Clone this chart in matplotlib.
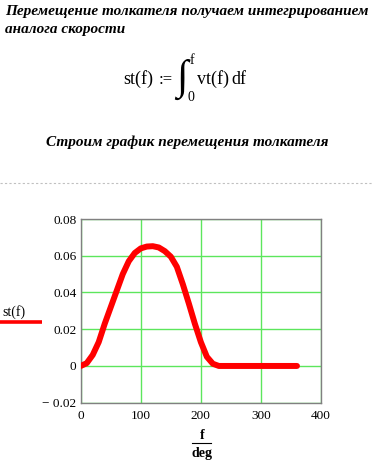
import matplotlib
matplotlib.use("Agg")
import matplotlib.pyplot as plt
from matplotlib.lines import Line2D

plt.rcParams['font.family'] = ['Liberation Serif', 'DejaVu Serif']
plt.rcParams['mathtext.fontset'] = 'stix'

# data
angle_deg = [0, 10, 20, 30, 40, 50, 60, 70, 80, 90, 100, 110, 120, 130, 140,
             150, 160, 170, 180, 190, 200, 210, 220, 230, 240, 250, 260, 270,
             280, 290, 300, 310, 320, 330, 340, 350, 360]
st_values = [0.0, 0.0015, 0.006, 0.013, 0.023, 0.032, 0.041, 0.050, 0.057,
             0.0615, 0.064, 0.065, 0.0652, 0.0645, 0.0625, 0.0595, 0.054,
             0.0445, 0.034, 0.023, 0.013, 0.005, 0.0012, 0.0, 0.0, 0.0, 0.0,
             0.0, 0.0, 0.0, 0.0, 0.0, 0.0, 0.0, 0.0, 0.0, 0.0]
x_ticks = [0, 100, 200, 300, 400]
y_ticks = [-0.02, 0, 0.02, 0.04, 0.06, 0.08]
y_tick_labels = ["\u2212 0.02", "0", "0.02", "0.04", "0.06", "0.08"]

W, H = 372, 461
fig = plt.figure(figsize=(W / 100, H / 100), dpi=100)
fig.patch.set_facecolor('white')

def fx(px):
    return px / W

def fy(py):
    return 1 - py / H

# header texts
fig.text(fx(5), fy(12), "Перемещение толкателя получаем интегрированием",
         fontsize=11, fontweight='bold', fontstyle='italic', ha='left', va='center')
fig.text(fx(5), fy(30), "аналога скорости",
         fontsize=11, fontweight='bold', fontstyle='italic', ha='left', va='center')

# formula st(f) := ∫_0^f vt(f) df
fig.text(fx(123), fy(84), "st(f)", fontsize=13, ha='left', va='baseline')
fig.text(fx(159), fy(84), ":=", fontsize=12, ha='left', va='baseline')
fig.text(fx(182), fy(79), "\u222b", fontsize=30, ha='center', va='center')
fig.text(fx(192), fy(61), "f", fontsize=10, ha='center', va='center')
fig.text(fx(191), fy(97), "0", fontsize=10, ha='center', va='center')
fig.text(fx(197), fy(84), "vt(f)", fontsize=13, ha='left', va='baseline')
fig.text(fx(231), fy(84), "df", fontsize=13, ha='left', va='baseline')

fig.text(fx(187), fy(142), "Строим график перемещения толкателя",
         fontsize=11, fontweight='bold', fontstyle='italic', ha='center', va='center')

fig.add_artist(Line2D([0, 1], [fy(183), fy(183)], transform=fig.transFigure,
                      color='#c0c0c0', lw=0.8, ls=(0, (2, 2))))

# axes
ax = fig.add_axes([fx(80.7), fy(402.7), fx(321) - fx(80.7), fy(219) - fy(402.7)])
ax.plot(angle_deg, st_values, color='#ff0000', lw=4.3, solid_capstyle='round',
        solid_joinstyle='round', zorder=3)
ax.set_xlim(0, 400)
ax.set_ylim(-0.02, 0.08)
ax.set_xticks(x_ticks)
ax.set_xticklabels([str(v) for v in x_ticks])
ax.set_yticks(y_ticks)
ax.set_yticklabels(y_tick_labels)
ax.tick_params(length=0, labelsize=9.5, pad=3, colors='black')
ax.tick_params(axis='x', pad=5)
ax.grid(True, color='#5ce65c', lw=1)
ax.set_axisbelow(True)
for s in ax.spines.values():
    s.set_color('#808080')
    s.set_linewidth(1)

# y label with legend line
fig.text(fx(14), fy(312), "st(f)", fontsize=10, ha='center', va='center')
fig.add_artist(Line2D([fx(0), fx(42)], [fy(322), fy(322)], transform=fig.transFigure,
                      color='#ff0000', lw=2.6, solid_capstyle='butt'))

# x label as fraction f / deg
fig.text(fx(202), fy(435), "f", fontsize=10, fontweight='bold', ha='center', va='center')
fig.add_artist(Line2D([fx(192), fx(211)], [fy(443), fy(443)], transform=fig.transFigure,
                      color='black', lw=0.8))
fig.text(fx(202), fy(453), "deg", fontsize=10, fontweight='bold', ha='center', va='center')

fig.savefig("out.png", dpi=100)
